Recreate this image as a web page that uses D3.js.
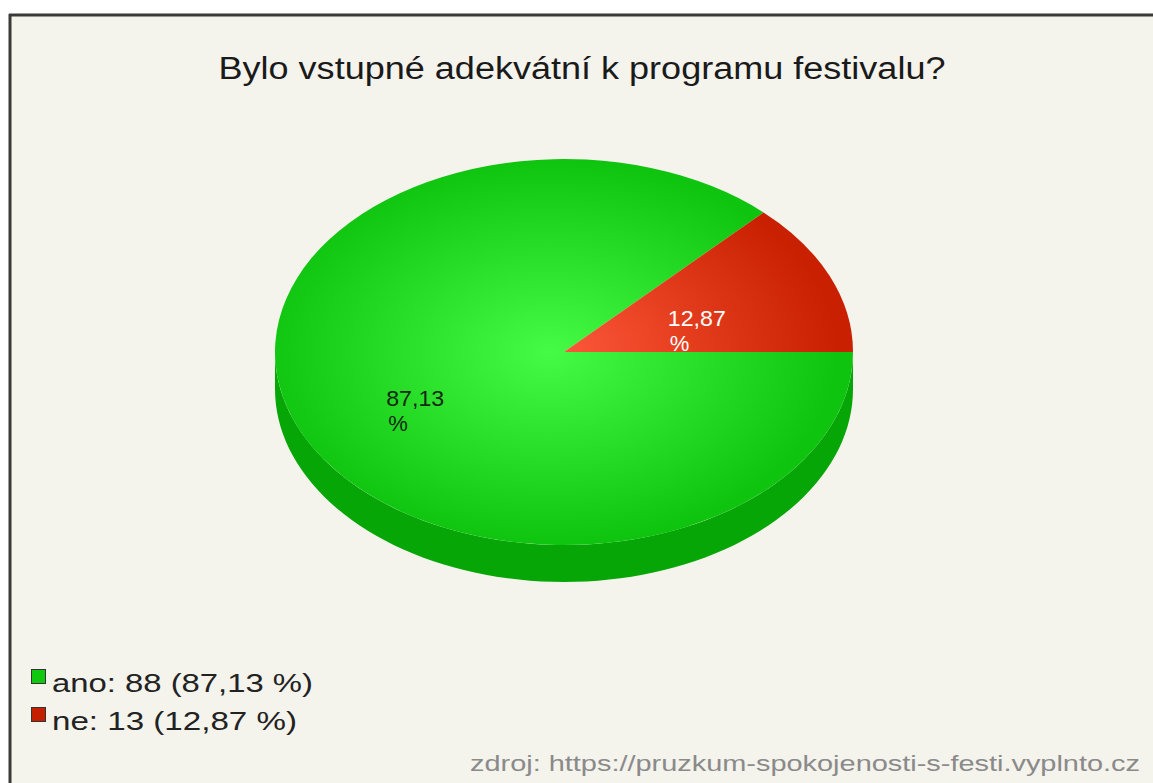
<!DOCTYPE html>
<html><head><meta charset="utf-8">
<script src="https://cdn.jsdelivr.net/npm/d3@7"></script>
<style>html,body{margin:0;padding:0;background:#fff;overflow:hidden}</style>
</head><body>
<svg id="c" width="1153" height="783"></svg>
<script>
const title = "Bylo vstupné adekvátní k programu festivalu?";
const categories = ["ano", "ne"];
const counts = [88, 13];
const percents = ["87,13", "12,87"];
const source = "zdroj: https://pruzkum-spokojenosti-s-festi.vyplnto.cz";

const topColors = [["#46fb46", "#0fc40f"], ["#ff5a3c", "#c82000"]];
const sideColors = ["#05a605", "#a01800"];
const legendColors = ["#11c811", "#c42000"];
const labelColors = ["#142814", "#ffffff"];

const W = 1153, H = 783;
const svg = d3.select("#c");
const font = "'Liberation Sans', Arial, sans-serif";

// frame
svg.append("rect").attr("x", 0).attr("y", 0).attr("width", W).attr("height", H).attr("fill", "#ffffff");
svg.append("rect").attr("x", 10).attr("y", 15).attr("width", W).attr("height", H).attr("fill", "#f4f3ec");
svg.append("line").attr("x1", 9).attr("x2", W).attr("y1", 15).attr("y2", 15).attr("stroke", "#3a3a36").attr("stroke-width", 3);
svg.append("line").attr("x1", 10).attr("x2", 10).attr("y1", 14).attr("y2", H).attr("stroke", "#3a3a36").attr("stroke-width", 3);

// title
svg.append("text").attr("x", 582).attr("y", 79).attr("text-anchor", "middle")
  .attr("font-family", font).attr("font-size", 31).attr("fill", "#1a1a1a")
  .attr("textLength", 727).attr("lengthAdjust", "spacingAndGlyphs").text(title);

// pie geometry
const cx = 564, cy = 352, rx = 289, ry = 193, depth = 37;
const pie = d3.pie().sort(null).startAngle(Math.PI / 2).endAngle(Math.PI / 2 + 2 * Math.PI);
const arcs = pie(counts);

const defs = svg.append("defs");
topColors.forEach((c, i) => {
  const g = defs.append("radialGradient").attr("id", "g" + i)
    .attr("gradientUnits", "userSpaceOnUse").attr("cx", -15).attr("cy", 0).attr("r", rx);
  g.append("stop").attr("offset", "0%").attr("stop-color", c[0]);
  g.append("stop").attr("offset", "100%").attr("stop-color", c[1]);
});

const ex = a => cx + rx * Math.sin(a);
const ey = (a, dy) => cy - ry * Math.cos(a) + dy;

// side bands (front half: angles pi/2 .. 3pi/2)
const sideG = svg.append("g");
arcs.forEach((d, i) => {
  const segs = [];
  for (let k = -1; k <= 1; k++) {
    const lo = Math.PI / 2 + k * 2 * Math.PI, hi = 3 * Math.PI / 2 + k * 2 * Math.PI;
    const s = Math.max(d.startAngle, lo), e = Math.min(d.endAngle, hi);
    if (e > s) segs.push([s, e]);
  }
  segs.forEach(([s, e]) => {
    const n = 80, p = d3.path();
    for (let j = 0; j <= n; j++) {
      const a = s + (e - s) * j / n;
      j === 0 ? p.moveTo(ex(a), ey(a, 0)) : p.lineTo(ex(a), ey(a, 0));
    }
    for (let j = n; j >= 0; j--) {
      const a = s + (e - s) * j / n;
      p.lineTo(ex(a), ey(a, depth));
    }
    p.closePath();
    sideG.append("path").attr("d", p.toString()).attr("fill", sideColors[i]);
  });
});

// top face
const arc = d3.arc().innerRadius(0).outerRadius(rx);
svg.append("g").attr("transform", `translate(${cx},${cy}) scale(1,${ry / rx})`)
  .selectAll("path").data(arcs).join("path")
  .attr("d", arc).attr("fill", (d, i) => `url(#g${i})`);

// slice labels
arcs.forEach((d, i) => {
  const m = (d.startAngle + d.endAngle) / 2;
  const k = 0.53;
  const lx = cx + rx * k * Math.sin(m) - 8;
  const ly = cy - ry * k * Math.cos(m) + 14;
  const t = svg.append("text").attr("font-family", font).attr("font-size", 22)
    .attr("fill", labelColors[i]);
  const t1 = t.append("tspan").attr("x", lx).attr("y", ly).attr("text-anchor", "middle")
    .attr("textLength", 58).attr("lengthAdjust", "spacingAndGlyphs").text(percents[i]);
  t.append("tspan").attr("x", lx - 29 + 2).attr("y", ly + 25).text("%");
});

// legend
categories.forEach((c, i) => {
  const y = 669 + i * 38;
  svg.append("rect").attr("x", 31.5).attr("y", y + 0.5).attr("width", 14).attr("height", 14)
    .attr("fill", legendColors[i]).attr("stroke", "#333").attr("stroke-width", 1);
  const txt = `${c}: ${counts[i]} (${percents[i]} %)`;
  const tt = svg.append("text").attr("x", 52).attr("y", y + 23).attr("font-family", font).attr("font-size", 26)
    .attr("fill", "#222").text(txt);
  tt.attr("textLength", i === 0 ? 261 : 245).attr("lengthAdjust", "spacingAndGlyphs");
});

// source
svg.append("text").attr("x", 1140).attr("y", 771).attr("text-anchor", "end")
  .attr("font-family", font).attr("font-size", 22).attr("fill", "#8a8a8a")
  .attr("textLength", 670).attr("lengthAdjust", "spacingAndGlyphs").text(source);
</script>
</body></html>
